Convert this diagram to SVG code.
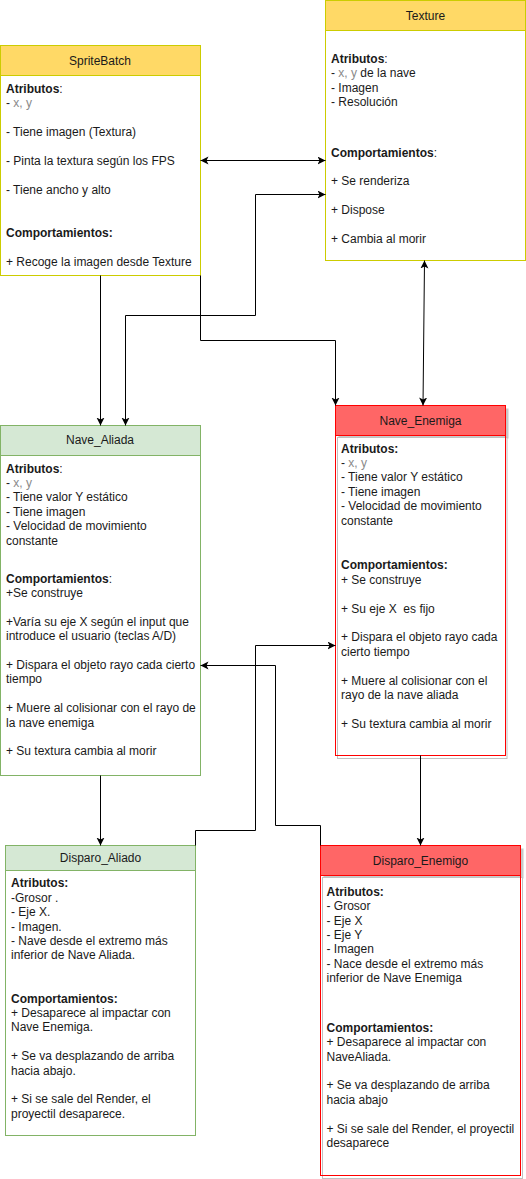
<svg xmlns="http://www.w3.org/2000/svg" width="526" height="1179" viewBox="0 0 526 1179">
<style>
text{font-family:"Liberation Sans",Arial,sans-serif;font-size:12px;fill:#1a1a1a}
.t{text-anchor:middle}
.b{font-weight:bold}
.g{fill:#8a8a8a}
.body{fill:#fff}
.yh{fill:#FFD966;stroke:#CCCC00;stroke-width:1}
.yb{fill:#fff;stroke:#CCCC00;stroke-width:1}
.gh{fill:#D5E8D4;stroke:#82B366;stroke-width:1}
.gb{fill:#fff;stroke:#82B366;stroke-width:1}
.rh{fill:#FF6666;stroke:#FF0000;stroke-width:1}
.rb{fill:none;stroke:#FF0000;stroke-width:1}
.sh{fill:#C8C8C8;stroke:none}
.sb{fill:#fff;stroke:#C0C0C0;stroke-width:1}
.c{fill:none;stroke:#000;stroke-width:1}
</style>
<defs>
<marker id="a" markerUnits="userSpaceOnUse" markerWidth="10" markerHeight="10" refX="8" refY="4" orient="auto-start-reverse" viewBox="0 0 10 10">
<path d="M0,0 L8,4 L0,8 L2,4 Z" fill="#000"/>
</marker>
</defs>

<g id="SpriteBatch">
<rect class="yb" x="0.5" y="45.5" width="200" height="230"/>
<rect class="yh" x="0.5" y="45.5" width="200" height="30"/>
<text class="t" x="100" y="64.5">SpriteBatch</text>
<text x="6" y="93"><tspan class="b">Atributos</tspan>:</text>
<text x="6" y="107.4">- <tspan class="g">x, y</tspan></text>
<text x="6" y="136.2">- Tiene imagen (Textura)</text>
<text x="6" y="165">- Pinta la textura según los FPS</text>
<text x="6" y="193.8">- Tiene ancho y alto</text>
<text x="6" y="237" class="b">Comportamientos:</text>
<text x="6" y="265.8">+ Recoge la imagen desde Texture</text>
</g>

<g id="Texture">
<rect class="yb" x="325.5" y="0.5" width="200" height="260"/>
<rect class="yh" x="325.5" y="0.5" width="200" height="30"/>
<text class="t" x="425.5" y="19.5">Texture</text>
<text x="331" y="63"><tspan class="b">Atributos</tspan>:</text>
<text x="331" y="77.4">- <tspan class="g">x, y</tspan> de la nave</text>
<text x="331" y="91.8">- Imagen</text>
<text x="331" y="106.2">- Resolución</text>
<text x="331" y="156.5"><tspan class="b">Comportamientos</tspan>:</text>
<text x="331" y="185.3">+ Se renderiza</text>
<text x="331" y="214.1">+ Dispose</text>
<text x="331" y="242.9">+ Cambia al morir</text>
</g>

<g id="Nave_Aliada">
<rect class="gb" x="0.5" y="425.5" width="200" height="350"/>
<rect class="gh" x="0.5" y="425.5" width="200" height="30"/>
<text class="t" x="100" y="444">Nave_Aliada</text>
<text x="6" y="472.5"><tspan class="b">Atributos</tspan>:</text>
<text x="6" y="486.9">- <tspan class="g">x, y</tspan></text>
<text x="6" y="501.3">- Tiene valor Y estático</text>
<text x="6" y="515.7">- Tiene imagen</text>
<text x="6" y="530.1">- Velocidad de movimiento</text>
<text x="6" y="544.5">constante</text>
<text x="6" y="582.5"><tspan class="b">Comportamientos</tspan>:</text>
<text x="6" y="596.9">+Se construye</text>
<text x="6" y="625.7">+Varía su eje X según el input que</text>
<text x="6" y="640.1">introduce el usuario (teclas A/D)</text>
<text x="6" y="668.9">+ Dispara el objeto rayo cada cierto</text>
<text x="6" y="683.3">tiempo</text>
<text x="6" y="712.1">+ Muere al colisionar con el rayo de</text>
<text x="6" y="726.5">la nave enemiga</text>
<text x="6" y="755.3">+ Su textura cambia al morir</text>
</g>

<g id="Nave_Enemiga">
<rect class="sh" x="338.5" y="408.5" width="170" height="30"/>
<rect class="sb" x="337.5" y="437.5" width="169.5" height="321"/>
<rect class="rb" x="335.5" y="405.5" width="170" height="350"/>
<rect class="rh" x="335.5" y="405.5" width="170" height="30"/>
<text class="t" x="420.5" y="424.5">Nave_Enemiga</text>
<text x="341" y="452.5" class="b">Atributos:</text>
<text x="341" y="466.9">- <tspan class="g">x, y</tspan></text>
<text x="341" y="481.3">- Tiene valor Y estático</text>
<text x="341" y="495.7">- Tiene imagen</text>
<text x="341" y="510.1">- Velocidad de movimiento</text>
<text x="341" y="524.5">constante</text>
<text x="341" y="569.3" class="b">Comportamientos:</text>
<text x="341" y="583.7">+ Se construye</text>
<text x="341" y="612.5">+ Su eje X&#160; es fijo</text>
<text x="341" y="641.3">+ Dispara el objeto rayo cada</text>
<text x="341" y="655.7">cierto tiempo</text>
<text x="341" y="684.5">+ Muere al colisionar con el</text>
<text x="341" y="698.9">rayo de la nave aliada</text>
<text x="341" y="727.7">+ Su textura cambia al morir</text>
</g>

<g id="Disparo_Aliado">
<rect class="gb" x="5.5" y="845.5" width="190" height="290"/>
<rect class="gh" x="5.5" y="845.5" width="190" height="25"/>
<text class="t" x="100.5" y="861.5">Disparo_Aliado</text>
<text x="11" y="887.3" class="b">Atributos:</text>
<text x="11" y="901.7">-Grosor .</text>
<text x="11" y="916.1">- Eje X.</text>
<text x="11" y="930.5">- Imagen.</text>
<text x="11" y="944.9">- Nave desde el extremo más</text>
<text x="11" y="959.3">inferior de Nave Aliada.</text>
<text x="11" y="1002.5" class="b">Comportamientos:</text>
<text x="11" y="1016.9">+ Desaparece al impactar con</text>
<text x="11" y="1031.3">Nave Enemiga.</text>
<text x="11" y="1060.1">+ Se va desplazando de arriba</text>
<text x="11" y="1074.5">hacia abajo.</text>
<text x="11" y="1103.3">+ Si se sale del Render, el</text>
<text x="11" y="1117.7">proyectil desaparece.</text>
</g>

<g id="Disparo_Enemigo">
<rect class="sh" x="323.5" y="848.5" width="200" height="30"/>
<rect class="sb" x="322.5" y="877.5" width="200" height="301"/>
<rect class="rb" x="320.5" y="845.5" width="200" height="330"/>
<rect class="rh" x="320.5" y="845.5" width="200" height="30"/>
<text class="t" x="420.5" y="864.5">Disparo_Enemigo</text>
<text x="326.5" y="895.7" class="b">Atributos:</text>
<text x="326.5" y="910.1">- Grosor</text>
<text x="326.5" y="924.5">- Eje X</text>
<text x="326.5" y="938.9">- Eje Y</text>
<text x="326.5" y="953.3">- Imagen</text>
<text x="326.5" y="967.7">- Nace desde el extremo más</text>
<text x="326.5" y="982.1">inferior de Nave Enemiga</text>
<text x="326.5" y="1031.7" class="b">Comportamientos:</text>
<text x="326.5" y="1046.1">+ Desaparece al impactar con</text>
<text x="326.5" y="1060.5">NaveAliada.</text>
<text x="326.5" y="1089.3">+ Se va desplazando de arriba</text>
<text x="326.5" y="1103.7">hacia abajo</text>
<text x="326.5" y="1132.5">+ Si se sale del Render, el proyectil</text>
<text x="326.5" y="1146.9">desaparece</text>
</g>

<g id="connectors">
<path class="c" d="M200.5,160.5 H325.5" marker-start="url(#a)" marker-end="url(#a)"/>
<path class="c" d="M100.5,275.5 V425.5" marker-end="url(#a)"/>
<path class="c" d="M125.5,425.5 V315.5 H255.5 V194.5 H325.5" marker-start="url(#a)" marker-end="url(#a)"/>
<path class="c" d="M200.5,275.5 V340.5 H335.5 V405.5" marker-end="url(#a)"/>
<path class="c" d="M424.5,260.5 L423,405.5" marker-start="url(#a)" marker-end="url(#a)"/>
<path class="c" d="M420.5,755.5 V845.5" marker-end="url(#a)"/>
<path class="c" d="M100.5,775.5 V845.5" marker-end="url(#a)"/>
<path class="c" d="M195.5,845.5 V830.5 H255.5 V645.5 H335.5" marker-end="url(#a)"/>
<path class="c" d="M320.5,845.5 V825.5 H275.5 V665.5 H200.5" marker-end="url(#a)"/>
</g>
</svg>
